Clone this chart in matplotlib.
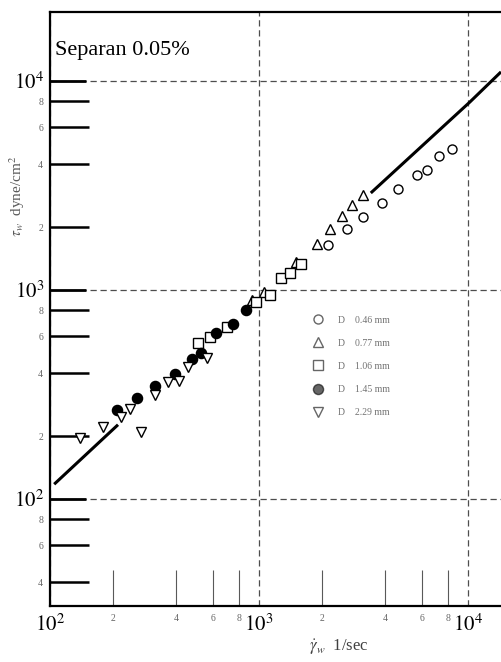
import matplotlib.pyplot as plt
from matplotlib.ticker import FixedLocator, FixedFormatter

plt.rcParams["font.family"] = ["Liberation Serif", "DejaVu Serif"]
plt.rcParams["mathtext.fontset"] = "stix"

# (log-log)
CIRCLE_X = [2138, 2637, 3145, 3877, 4626, 5702, 6365, 7263, 8383]
CIRCLE_Y = [1642, 1958, 2235, 2608, 3043, 3549, 3751, 4377, 4727]

TRI_UP_X = [926, 1057, 1503, 1895, 2187, 2496, 2786, 3145]
TRI_UP_Y = [896, 978, 1361, 1660, 1958, 2260, 2551, 2848]

SQUARE_X = [511, 583, 703, 967, 1129, 1274, 1407, 1589]
SQUARE_Y = [558, 596, 665, 876, 946, 1141, 1206, 1331]

FILLED_X = [209, 261, 318, 396, 478, 528, 623, 751, 867]
FILLED_Y = [267, 304, 347, 396, 468, 500, 623, 688, 802]

TRI_DOWN_X = [139, 179, 219, 241, 272, 318, 367, 414, 457, 564]
TRI_DOWN_Y = [196, 221, 247, 270, 209, 315, 363, 367, 428, 473]

LOW_LINE_X = [106, 209]
LOW_LINE_Y = [119, 224]
HIGH_LINE_X = [3472, 10222, 14224]
HIGH_LINE_Y = [2944, 7934, 10923]

LEGEND_LABELS = [
    "D    0.46 mm",
    "D    0.77 mm",
    "D    1.06 mm",
    "D    1.45 mm",
    "D    2.29 mm",
]

X_MINOR = [200, 400, 600, 800, 2000, 4000, 6000, 8000]
X_MINOR_LABELS = ["2", "4", "6", "8", "2", "4", "6", "8"]
Y_MINOR = [40, 60, 80, 200, 400, 600, 800, 2000, 4000, 6000, 8000]
Y_MINOR_LABELS = ["4", "6", "8", "2", "4", "6", "8", "2", "4", "6", "8"]


def main() -> None:
    fig = plt.figure(figsize=(5.02, 6.62), dpi=100)
    ax = fig.add_axes([0.0996, 0.0846, 0.9004, 0.8973])
    ax.set_xscale("log")
    ax.set_yscale("log")
    ax.set_xlim(100, 10 ** 4.163)
    ax.set_ylim(10 ** 1.488, 10 ** 4.33)

    ms = 6.5
    ax.plot(CIRCLE_X, CIRCLE_Y, "o", ms=ms, mfc="white", mec="black", mew=1.0,
            label=LEGEND_LABELS[0])
    ax.plot(TRI_UP_X, TRI_UP_Y, "^", ms=ms + 0.5, mfc="white", mec="black", mew=1.0,
            label=LEGEND_LABELS[1])
    ax.plot(SQUARE_X, SQUARE_Y, "s", ms=ms, mfc="white", mec="black", mew=1.0,
            label=LEGEND_LABELS[2])
    ax.plot(FILLED_X, FILLED_Y, "o", ms=ms + 0.8, mfc="black", mec="black",
            label=LEGEND_LABELS[3])
    ax.plot(TRI_DOWN_X, TRI_DOWN_Y, "v", ms=ms + 0.5, mfc="white", mec="black", mew=1.0,
            label=LEGEND_LABELS[4])

    ax.plot(LOW_LINE_X, LOW_LINE_Y, "-", color="black", lw=2.2)
    ax.plot(HIGH_LINE_X, HIGH_LINE_Y, "-", color="black", lw=2.2)

    # axes frame
    for side in ("left", "bottom", "top"):
        ax.spines[side].set_linewidth(1.6)
    ax.spines["right"].set_visible(False)

    # ticks
    ax.xaxis.set_major_locator(FixedLocator([100, 1000, 10000]))
    ax.xaxis.set_major_formatter(FixedFormatter(["$10^2$", "$10^3$", "$10^4$"]))
    ax.xaxis.set_minor_locator(FixedLocator(X_MINOR))
    ax.xaxis.set_minor_formatter(FixedFormatter(X_MINOR_LABELS))
    ax.yaxis.set_major_locator(FixedLocator([100, 1000, 10000]))
    ax.yaxis.set_major_formatter(FixedFormatter(["$10^2$", "$10^3$", "$10^4$"]))
    ax.yaxis.set_minor_locator(FixedLocator(Y_MINOR))
    ax.yaxis.set_minor_formatter(FixedFormatter(Y_MINOR_LABELS))

    ax.tick_params(axis="x", which="major", length=0, labelsize=15, pad=6)
    ax.tick_params(axis="x", which="minor", direction="in", length=26, width=0.8,
                   color="0.35", labelsize=7, labelcolor="0.4", pad=6)
    ax.tick_params(axis="y", which="major", direction="in", length=26, width=2.0,
                   labelsize=15, pad=4)
    ax.tick_params(axis="y", which="minor", direction="in", length=28, width=1.8,
                   labelsize=7, labelcolor="0.4", pad=5)
    ax.tick_params(top=False, right=False, which="both")

    ax.grid(True, which="major", linestyle=(0, (5, 3)), color="0.3", lw=0.9)

    ax.text(0.012, 0.935, "Separan 0.05%", transform=ax.transAxes, fontsize=16,
            ha="left", va="center")

    ax.set_xlabel(r"$\dot{\gamma}_w$  1/sec", fontsize=12, color="0.25")
    ax.xaxis.set_label_coords(0.64, -0.052)
    ax.set_ylabel(r"$\tau_w$  dyne/cm$^2$", fontsize=11, color="0.35")
    ax.yaxis.set_label_coords(-0.05, 0.69)

    leg = ax.legend(loc="upper left", bbox_to_anchor=(0.565, 0.497), frameon=False,
                    fontsize=7, labelcolor="0.45", labelspacing=1.45,
                    handletextpad=1.4, borderpad=0, handlelength=1.5)
    for h in leg.legend_handles:
        h.set_alpha(0.6)

    fig.savefig("out.png", dpi=100)
    plt.close(fig)


if __name__ == "__main__":
    main()
